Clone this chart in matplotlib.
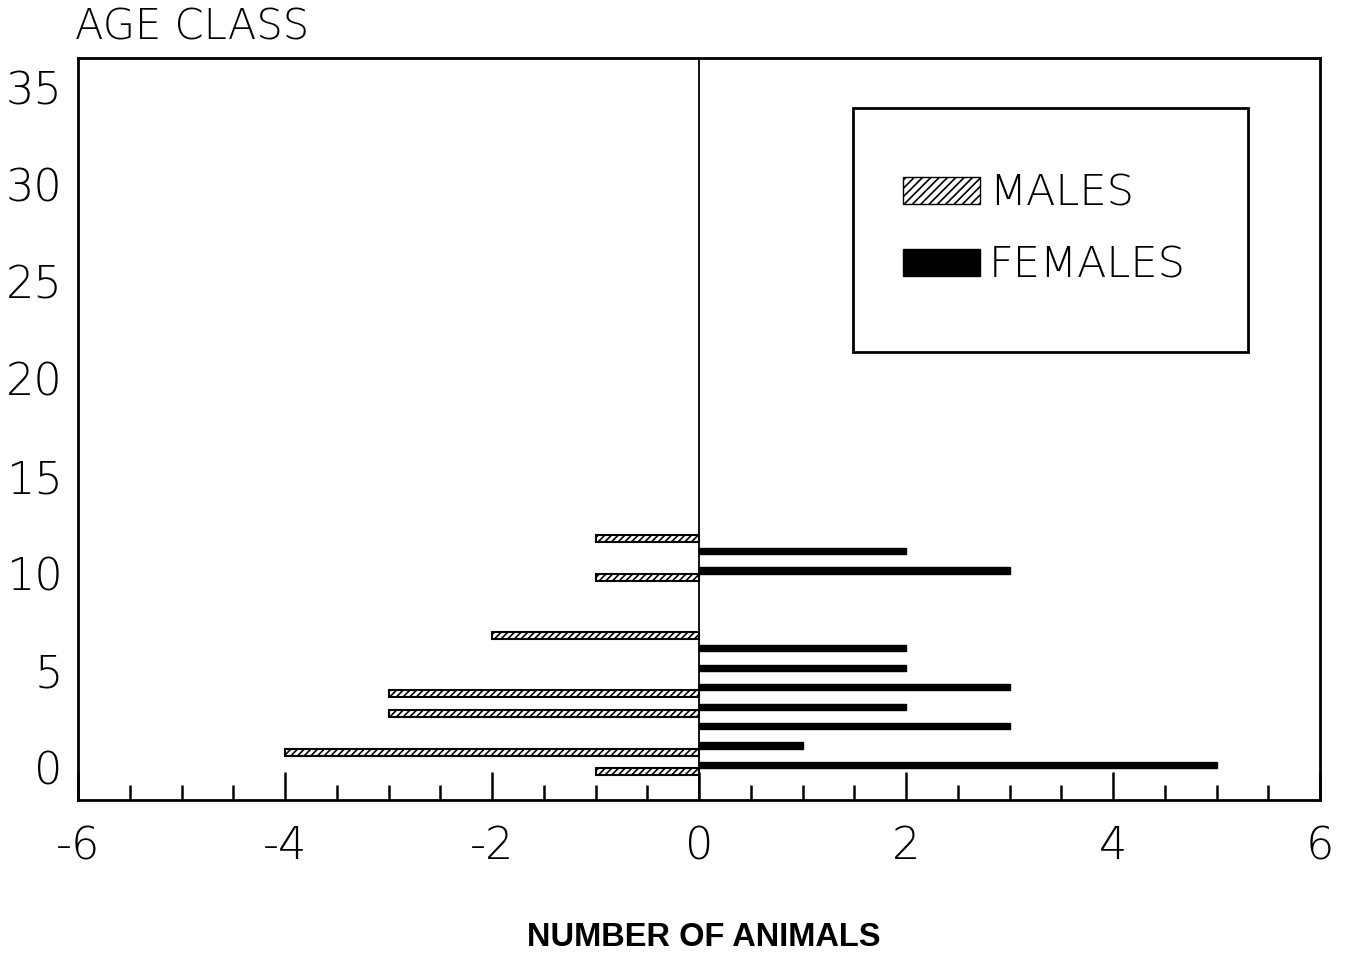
import matplotlib.pyplot as plt
from matplotlib.patches import Patch, Rectangle

# age classes and counts (males drawn to the left as negatives)
male_age = [0, 1, 3, 4, 7, 10, 12]
male_count = [-1, -4, -3, -3, -2, -1, -1]
female_age = [0, 1, 2, 3, 4, 5, 6, 10, 11]
female_count = [5, 1, 3, 2, 3, 2, 2, 3, 2]

x_ticks = [-6, -4, -2, 0, 2, 4, 6]
y_ticks = [0, 5, 10, 15, 20, 25, 30, 35]

plt.rcParams['font.family'] = ['DejaVu Sans']
plt.rcParams['hatch.linewidth'] = 1.2

fig = plt.figure(figsize=(13.48, 9.55), dpi=100)
ax = fig.add_axes([0.0579, 0.1623, 0.9214, 0.777])

# males sit slightly below the class value, females slightly above
ax.barh([a - 0.2 for a in male_age], male_count, height=0.36,
        color='white', edgecolor='black', hatch='/////', linewidth=1.5)
ax.barh([a + 0.15 for a in female_age], female_count, height=0.32,
        color='black', edgecolor='black', linewidth=1)

ax.axvline(0, color='black', linewidth=1.3)

ax.set_xlim(-6, 6)
ax.set_ylim(-1.65, 36.5)
ax.set_xticks(x_ticks)
ax.set_xticklabels([str(v) for v in x_ticks], fontsize=32, fontweight='light')
ax.set_xticks([v / 2 for v in range(-11, 12) if v % 4 != 0], minor=True)
ax.set_yticks(y_ticks)
ax.set_yticklabels([str(v) for v in y_ticks], fontsize=32, fontweight='light')
ax.tick_params(axis='x', which='major', direction='in', length=20, width=1.8, pad=18)
ax.tick_params(axis='x', which='minor', direction='in', length=11, width=1.8)
ax.tick_params(axis='y', length=0, pad=11)
for s in ax.spines.values():
    s.set_linewidth(2)

# legend box
ax.add_patch(Rectangle((0.624, 0.6038), 0.318, 0.3288, transform=ax.transAxes,
                       fill=False, edgecolor='black', linewidth=2))
handles = [Patch(facecolor='white', edgecolor='black', hatch='////', label='MALES'),
           Patch(facecolor='black', edgecolor='black', label='FEMALES')]
ax.legend(handles=handles, loc='upper left', bbox_to_anchor=(0.664, 0.845),
          frameon=False, handlelength=1.8, handleheight=0.6,
          handletextpad=0.2, labelspacing=0.72, borderpad=0, borderaxespad=0,
          prop={'size': 31, 'weight': 'light'})

fig.text(75 / 1348, 1 - 47 / 955, 'AGE CLASS', fontsize=30, fontweight='light',
         va='bottom', ha='left')
fig.text(704 / 1348, 1 - 937 / 955, 'NUMBER OF ANIMALS', fontsize=23.5,
         fontweight='bold', family='Liberation Sans', ha='center', va='center')

fig.savefig('out.png', dpi=100)
